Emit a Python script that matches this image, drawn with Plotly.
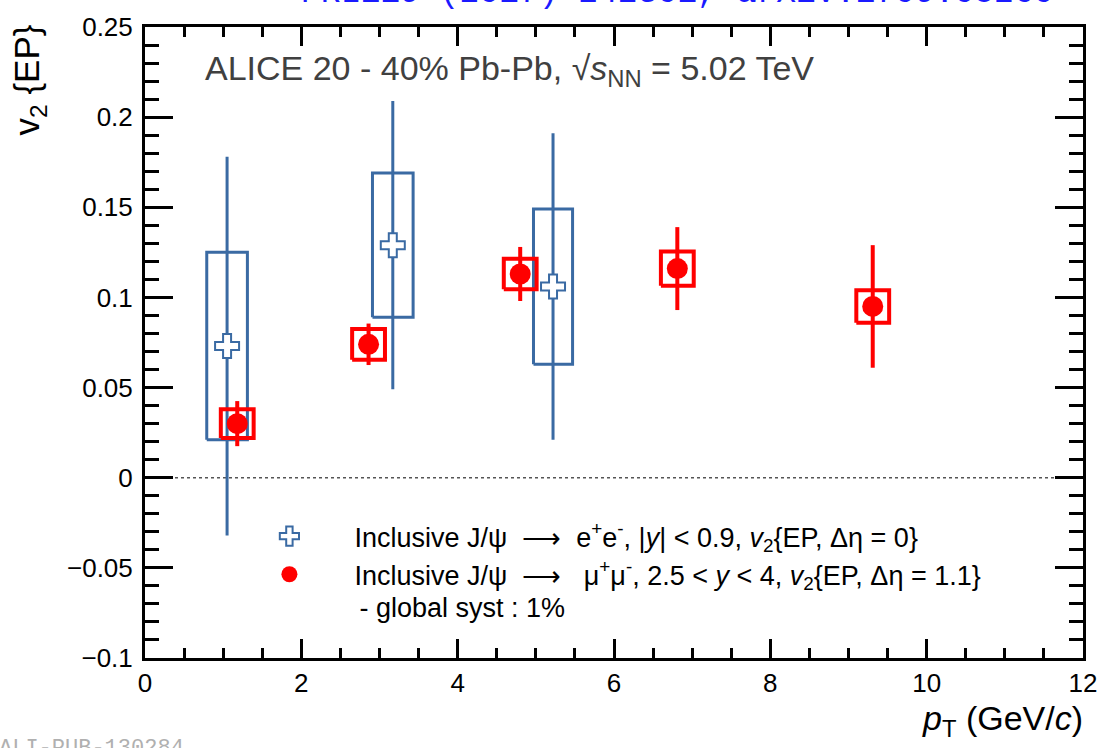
import plotly.graph_objects as go

# ---- data ----
ee_pt = [1.05, 3.17, 5.22]
ee_v2 = [0.073, 0.129, 0.106]
ee_stat = [0.105, 0.080, 0.085]
ee_syst = [0.052, 0.040, 0.043]
ee_halfw = [0.26, 0.26, 0.25]

mm_pt = [1.18, 2.86, 4.80, 6.81, 9.31]
mm_v2 = [0.030, 0.074, 0.113, 0.116, 0.095]
mm_stat = [0.0125, 0.0115, 0.015, 0.023, 0.034]
mm_syst = [0.008, 0.0085, 0.0085, 0.0095, 0.009]
mm_halfw = [0.21, 0.21, 0.21, 0.21, 0.21]

x_ticks = [0, 2, 4, 6, 8, 10, 12]
y_ticks = [-0.1, -0.05, 0, 0.05, 0.1, 0.15, 0.2, 0.25]

BLUE = "#3a6aa3"
RED = "#ff0000"
FONT = "Liberation Sans, Arial, Helvetica, sans-serif"
MONO = "Liberation Mono, Courier New, monospace"

W, H = 1109, 748
L, R, T, B = 145, 19, 18, 90


def px(xp):
    return (xp - L) / (W - L - R)


def py(yp):
    return (H - B - yp) / (H - T - B)


def boxes(xs, ys, sy, hw):
    bx, by = [], []
    for x, y, s, w in zip(xs, ys, sy, hw):
        bx += [x - w, x + w, x + w, x - w, x - w, None]
        by += [y - s, y - s, y + s, y + s, y - s, None]
    return bx, by


ARROW = "⟶"

fig = go.Figure()

# zero line
fig.add_trace(go.Scatter(x=[x_ticks[0], x_ticks[-1]], y=[0, 0], mode="lines",
                         line=dict(color="#555555", width=1.5, dash="dot"),
                         showlegend=False, hoverinfo="skip"))

bx, by = boxes(ee_pt, ee_v2, ee_syst, ee_halfw)
fig.add_trace(go.Scatter(x=bx, y=by, mode="lines", line=dict(color=BLUE, width=3),
                         showlegend=False, hoverinfo="skip"))
fig.add_trace(go.Scatter(
    x=ee_pt, y=ee_v2, mode="markers",
    error_y=dict(type="data", array=ee_stat, color=BLUE, thickness=3, width=0),
    marker=dict(symbol="cross", size=20, color="white", line=dict(color=BLUE, width=2)),
    name=("Inclusive J/ψ  " + ARROW + "  e<sup>+</sup>e<sup>-</sup>, |<i>y</i>| &lt; 0.9, "
          "<i>v</i><sub>2</sub>{EP, Δη = 0}"),
    legendgroup="a"))

bx, by = boxes(mm_pt, mm_v2, mm_syst, mm_halfw)
fig.add_trace(go.Scatter(x=bx, y=by, mode="lines", line=dict(color=RED, width=4),
                         showlegend=False, hoverinfo="skip"))
fig.add_trace(go.Scatter(
    x=mm_pt, y=mm_v2, mode="markers",
    error_y=dict(type="data", array=mm_stat, color=RED, thickness=4, width=0),
    marker=dict(symbol="circle", size=21, color=RED),
    name=("Inclusive J/ψ  " + ARROW + "   μ<sup>+</sup>μ<sup>-</sup>, 2.5 &lt; <i>y</i> &lt; 4, "
          "<i>v</i><sub>2</sub>{EP, Δη = 1.1}"),
    legendgroup="b"))

axis_common = dict(showline=True, linecolor="black", linewidth=3, mirror="allticks",
                   ticks="inside", tickwidth=2.5, tickcolor="black",
                   showgrid=False, zeroline=False,
                   tickfont=dict(family=FONT, size=26, color="black"))

fig.update_xaxes(range=[x_ticks[0], x_ticks[-1]], tickvals=x_ticks, ticktext=[str(v) for v in x_ticks],
                 ticklen=19,
                 minor=dict(dtick=0.5, ticks="inside", ticklen=10, tickwidth=2.5, tickcolor="black"),
                 **axis_common)
fig.update_yaxes(range=[y_ticks[0], y_ticks[-1]], tickvals=y_ticks,
                 ticktext=[("−" + f"{abs(v):g}") if v < 0 else f"{v:g}" for v in y_ticks],
                 ticklen=28,
                 minor=dict(dtick=0.01, ticks="inside", ticklen=14, tickwidth=2.5, tickcolor="black"),
                 ticklabelstandoff=4,
                 **axis_common)

annotations = [
    dict(text="<i>p</i><sub>T</sub> (GeV/<i>c</i>)", x=px(1092), y=py(721), xanchor="right", yanchor="middle",
         font=dict(family=FONT, size=34, color="black")),
    dict(text="v<sub>2</sub> {EP}", x=px(28), y=py(13), xanchor="center", yanchor="top", textangle=-90,
         font=dict(family=FONT, size=35, color="black")),
    dict(text="ALICE 20 - 40% Pb-Pb, √<i>s</i><sub>NN</sub> = 5.02 TeV", x=px(203), y=py(62),
         xanchor="left", yanchor="middle", font=dict(family=FONT, size=34, color="#404040")),
    dict(text=" - global syst : 1%", x=px(352), y=py(607), xanchor="left", yanchor="middle",
         font=dict(family=FONT, size=27, color="black")),
    dict(text="PRL119 (2017) 242301, arXiv:1709.05260", x=px(300), y=py(4.5), xanchor="left", yanchor="bottom",
         font=dict(family=MONO, size=33, color="#1a1aff")),
    dict(text="ALI-PUB-130284", x=px(-4), y=py(735), xanchor="left", yanchor="top",
         font=dict(family=MONO, size=22, color="#b0b0b0")),
]
for a in annotations:
    a.update(xref="paper", yref="paper", showarrow=False)

fig.update_layout(
    width=W, height=H, margin=dict(l=L, r=R, t=T, b=B),
    paper_bgcolor="white", plot_bgcolor="white",
    showlegend=True,
    legend=dict(x=px(225), y=py(510), xanchor="left", yanchor="top", bgcolor="rgba(0,0,0,0)",
                font=dict(family=FONT, size=27, color="black"), itemwidth=120,
                traceorder="grouped", tracegroupgap=0),
    annotations=annotations,
)

fig.write_html("out.html")
